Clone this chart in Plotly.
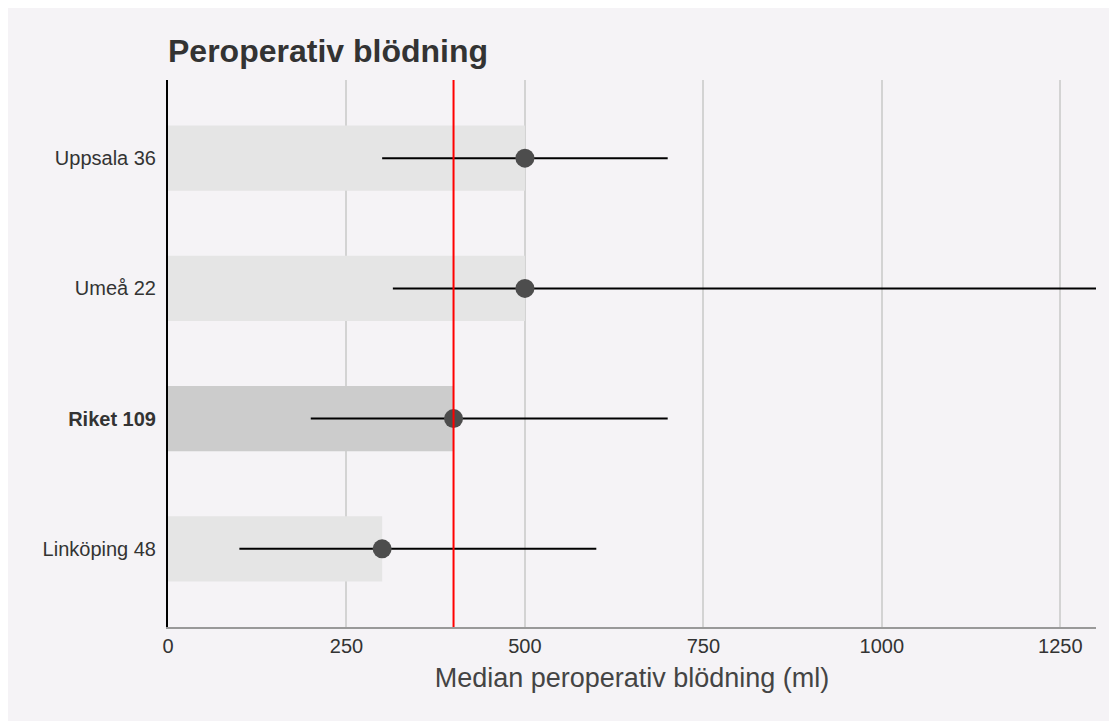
import plotly.graph_objects as go

categories = ["Linköping 48", "Riket 109", "Umeå 22", "Uppsala 36"]
tick_labels = ["Linköping 48", "<b>Riket 109</b>", "Umeå 22", "Uppsala 36"]
medians = [300, 400, 500, 500]
lower = [100, 200, 315, 300]
upper = [600, 700, 1400, 700]
bar_colors = ["#e5e5e5", "#cccccc", "#e5e5e5", "#e5e5e5"]
reference_value = 400
x_ticks = [0, 250, 500, 750, 1000, 1250]

fig = go.Figure()

fig.add_trace(go.Bar(
    y=categories, x=medians, orientation="h", width=0.5,
    marker=dict(color=bar_colors, line=dict(width=0)),
    hoverinfo="skip", showlegend=False,
))

line_x, line_y = [], []
for c, lo, hi in zip(categories, lower, upper):
    line_x += [lo, hi, None]
    line_y += [c, c, None]
fig.add_trace(go.Scatter(
    x=line_x, y=line_y, mode="lines",
    line=dict(color="#000000", width=2),
    showlegend=False, hoverinfo="skip", cliponaxis=True,
))

fig.add_trace(go.Scatter(
    x=medians, y=categories, mode="markers",
    marker=dict(color="#4d4d4d", size=19, line=dict(width=0)),
    showlegend=False,
))

fig.add_shape(type="line", xref="x", yref="paper",
              x0=reference_value, x1=reference_value, y0=0, y1=1,
              line=dict(color="#ff0000", width=2))

fig.update_layout(
    width=1109, height=713,
    margin=dict(l=160, r=21, t=72, b=94),
    paper_bgcolor="#f5f3f6",
    plot_bgcolor="#f5f3f6",
    font=dict(family="Liberation Sans, Arial, sans-serif", color="#333333"),
    title=dict(text="<b>Peroperativ blödning</b>", x=160 / 1109, xanchor="left",
               y=1 - 43 / 713, yanchor="middle",
               font=dict(size=32, color="#333333")),
    showlegend=False,
)

fig.update_xaxes(
    range=[0, 1300], tickvals=x_ticks, ticktext=[str(v) for v in x_ticks],
    showgrid=True, gridcolor="#d3d3d3", gridwidth=2,
    zeroline=False, showline=True, linecolor="#999999", linewidth=2,
    ticks="", tickfont=dict(size=20, color="#333333"),
    title=dict(text="Median peroperativ blödning (ml)", font=dict(size=27, color="#444444"),
               standoff=12),
)
fig.update_yaxes(
    type="category", categoryorder="array", categoryarray=categories,
    tickvals=categories, ticktext=tick_labels, range=[-0.6, 3.6],
    showgrid=False, zeroline=False, showline=True, linecolor="#000000", linewidth=2,
    ticks="", ticklabelstandoff=6, tickfont=dict(size=20, color="#333333"),
)

fig.write_html("out.html")
